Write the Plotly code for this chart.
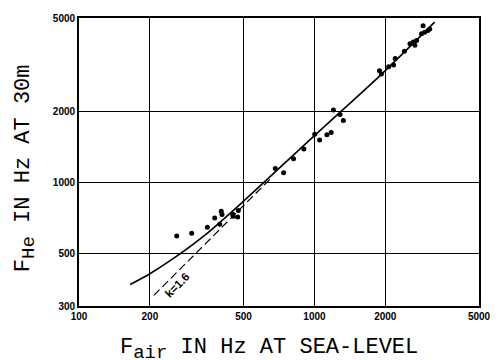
import plotly.graph_objects as go
import math

# measured points (F_air at sea level, F_He at 30 m)
pts_air = [260, 301, 351, 377, 402, 405, 396, 449, 452, 475, 472,
           682, 740, 815, 902, 1003, 1052, 1130, 1178, 1204, 1285, 1327,
           1925, 1889, 2066, 2168, 2203, 2410, 2546, 2629, 2716, 2672,
           2850, 2942, 3037, 2893, 3087]
pts_he = [594, 610, 648, 709, 757, 733, 666, 737, 721, 762, 716,
          1148, 1102, 1264, 1392, 1608, 1518, 1599, 1635, 2035, 1950, 1835,
          2894, 2985, 3109, 3158, 3368, 3614, 3890, 3956, 4018, 3828,
          4284, 4355, 4423, 4641, 4496]

# solid fitted curve
curve_air = [165, 200, 260, 350, 495, 1000, 1925, 3240]
curve_he = [370, 411, 488, 610, 828, 1585, 2884, 4800]

# dashed line k = 1.6
dash_air = [208, 665]
dash_he = [333, 1064]

x_ticks = [100, 200, 500, 1000, 2000, 5000]
y_ticks = [300, 500, 1000, 2000, 5000]

fig = go.Figure()
fig.add_trace(go.Scatter(x=curve_air, y=curve_he, mode="lines",
                         line=dict(color="black", width=1.6, shape="spline", smoothing=0.8),
                         showlegend=False, hoverinfo="skip"))
fig.add_trace(go.Scatter(x=dash_air, y=dash_he, mode="lines",
                         line=dict(color="black", width=1.2, dash="8px,4px"),
                         showlegend=False, hoverinfo="skip"))
fig.add_trace(go.Scatter(x=pts_air, y=pts_he, mode="markers",
                         marker=dict(color="black", size=5),
                         showlegend=False))

tickfont = dict(family="Liberation Sans, Arial", size=10, color="black", weight="bold")
fig.update_xaxes(type="log", range=[2, math.log10(5000)], tickvals=x_ticks,
                 ticktext=[str(v) for v in x_ticks], tickfont=tickfont,
                 showgrid=True, gridcolor="black", gridwidth=1.2,
                 showline=True, linecolor="black", linewidth=1.8, mirror=True,
                 ticks="", zeroline=False)
fig.update_yaxes(type="log", range=[math.log10(300), math.log10(5000)], tickvals=y_ticks,
                 ticktext=[str(v) for v in y_ticks], tickfont=tickfont,
                 showgrid=True, gridcolor="black", gridwidth=1.2,
                 showline=True, linecolor="black", linewidth=1.8, mirror=True,
                 ticks="", zeroline=False)

mono = dict(family="Liberation Mono, Courier New, monospace", size=22, color="black")
sub_style = "font-size:19px"
fig.update_layout(
    width=503, height=360,
    margin=dict(l=79, r=17, t=14, b=54),
    paper_bgcolor="white", plot_bgcolor="white",
    annotations=[
        dict(text=f"F<sub><span style='{sub_style}'>air</span></sub> IN Hz AT SEA-LEVEL",
             xref="paper", yref="paper",
             x=0.475, y=-0.15, xanchor="center", yanchor="middle",
             showarrow=False, font=mono),
        dict(text=f"F<sub><span style='{sub_style}'>He</span></sub> IN Hz AT 30m",
             xref="paper", yref="paper",
             x=-0.133, y=0.478, xanchor="center", yanchor="middle", textangle=-90,
             showarrow=False, font=mono),
        dict(text="k=1.6", x=math.log10(262), y=math.log10(367), xref="x", yref="y",
             textangle=-45, showarrow=False,
             font=dict(family="Liberation Sans, Arial", size=11.5, color="black", weight="bold")),
    ],
)
fig.write_html("out.html", config={"displayModeBar": False},
               post_script="document.body.style.margin='0px';document.body.style.padding='0px';")
